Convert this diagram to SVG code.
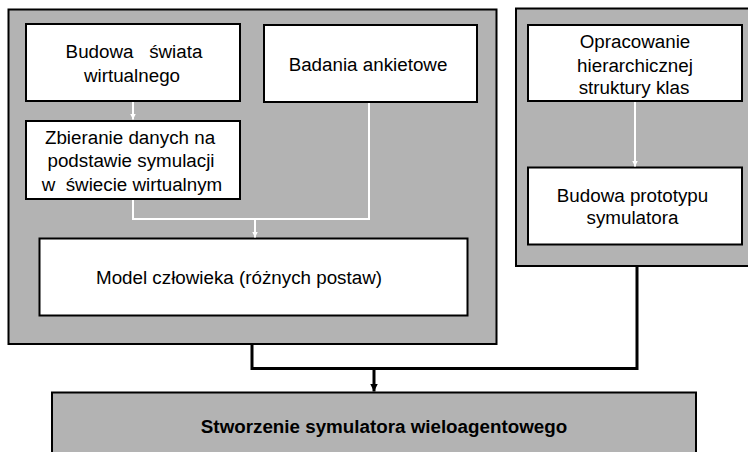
<svg xmlns="http://www.w3.org/2000/svg" width="748" height="452" viewBox="0 0 748 452">
<defs>
<style>
.panel{fill:#b3b3b3;stroke:#000;stroke-width:2}
.box{fill:#fff;stroke:#000;stroke-width:2}
.t{font-family:"Liberation Sans",Arial,sans-serif;font-size:18.8px;fill:#000;text-anchor:middle;white-space:pre}
.b{font-weight:bold}
.wl{fill:none;stroke:#fff;stroke-width:2}
.bl{fill:none;stroke:#000;stroke-width:3}
</style>
<marker id="wa" viewBox="0 0 10 10" refX="10" refY="5" markerWidth="6" markerHeight="6" markerUnits="userSpaceOnUse" orient="auto">
<path d="M0,0 L10,5 L0,10 z" fill="#fff"/>
</marker>
<marker id="ba" viewBox="0 0 10 10" refX="10" refY="5" markerWidth="8" markerHeight="8" markerUnits="userSpaceOnUse" orient="auto">
<path d="M0,0 L10,5 L0,10 z" fill="#000"/>
</marker>
</defs>
<g id="panel-left"><rect class="panel" x="8.5" y="9.5" width="488" height="334.5"/></g>
<g id="panel-right"><rect class="panel" x="516" y="8.5" width="250" height="257.5"/></g>
<g id="final">
<rect class="panel" x="52" y="392.5" width="644" height="80"/>
<text class="t b" x="384" y="432.5">Stworzenie symulatora wieloagentowego</text>
</g>
<g id="budowa-swiata">
<rect class="box" x="26" y="24" width="214" height="77"/>
<text class="t" x="134" y="58">Budowa   świata</text>
<text class="t" x="132" y="81.5">wirtualnego</text>
</g>
<g id="badania">
<rect class="box" x="264" y="25" width="213" height="77"/>
<text class="t" x="368" y="70.7">Badania ankietowe</text>
</g>
<g id="zbieranie">
<rect class="box" x="26" y="121" width="214" height="78"/>
<text class="t" x="130" y="143.5">Zbieranie danych na</text>
<text class="t" x="131" y="167">podstawie symulacji</text>
<text class="t" x="132" y="190.5">w  świecie wirtualnym</text>
</g>
<g id="model">
<rect class="box" x="39.5" y="238.5" width="428" height="77"/>
<text class="t" x="239" y="284">Model człowieka (różnych postaw)</text>
</g>
<g id="opracowanie">
<rect class="box" x="528" y="25" width="214" height="76"/>
<text class="t" x="635" y="48.3">Opracowanie</text>
<text class="t" x="635" y="71.5">hierarchicznej</text>
<text class="t" x="634" y="94">struktury klas</text>
</g>
<g id="prototyp">
<rect class="box" x="528" y="167.5" width="214" height="77"/>
<text class="t" x="632.5" y="201.7">Budowa prototypu</text>
<text class="t" x="632.5" y="224">symulatora</text>
</g>
<g id="connectors">
<line class="wl" x1="133" y1="102" x2="133" y2="119.5" marker-end="url(#wa)"/>
<polyline class="wl" points="133,200 133,219 369,219 369,103"/>
<line class="wl" x1="255" y1="219" x2="255" y2="237.5" marker-end="url(#wa)"/>
<line class="wl" x1="635" y1="102" x2="635" y2="166.5" marker-end="url(#wa)"/>
<polyline class="bl" points="252,345 252,368.5 637,368.5 637,267"/>
<line class="bl" x1="374" y1="368.5" x2="374" y2="391.5" marker-end="url(#ba)"/>
</g>
</svg>
